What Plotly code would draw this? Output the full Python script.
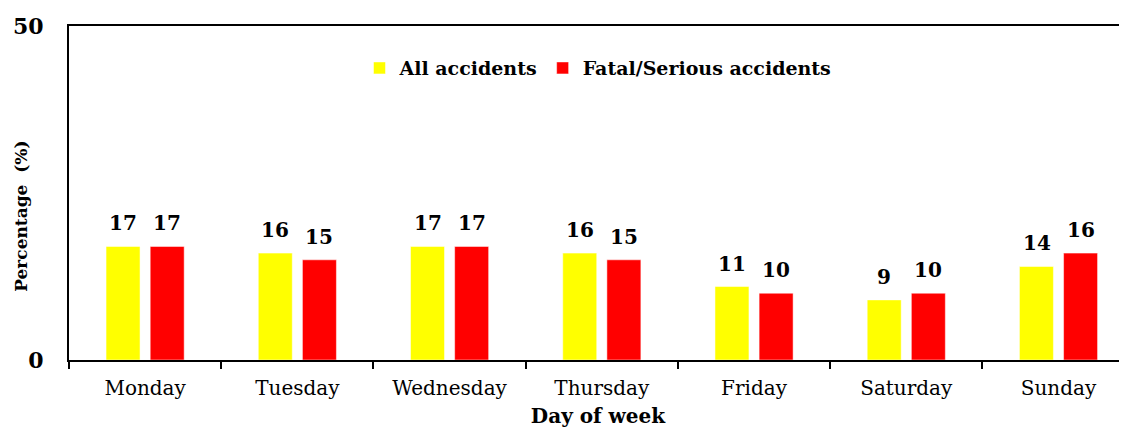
import plotly.graph_objects as go

days = ["Monday", "Tuesday", "Wednesday", "Thursday", "Friday", "Saturday", "Sunday"]
all_accidents = [17, 16, 17, 16, 11, 9, 14]
fatal_serious = [17, 15, 17, 15, 10, 10, 16]

font_family = "DejaVu Serif"

tr_all = go.Bar(
    x=days,
    y=all_accidents,
    name="<b>All accidents</b>",
    marker=dict(color="#FFFF00")
)
tr_fatal = go.Bar(
    x=days,
    y=fatal_serious,
    name="<b>Fatal/Serious accidents</b>",
    marker=dict(color="#FF0000")
)

# value labels over the bars
labels = []
for series, shift in [(all_accidents, -22), (fatal_serious, 22)]:
    for d, v in zip(days, series):
        labels.append(dict(
            x=d, y=v, xref="x", yref="y",
            text="<b>%d</b>" % v,
            showarrow=False,
            xshift=shift,
            yshift=9,
            yanchor="bottom",
            font=dict(size=20, family=font_family)
        ))

labels.append(dict(
    text="<b>Percentage  (%)</b>",
    textangle=-90,
    xref="paper",
    yref="paper",
    x=-0.045,
    y=0.43,
    xanchor="center",
    yanchor="middle",
    showarrow=False,
    font=dict(size=17, family=font_family)
))

# page body has an 8px margin, so the figure is a bit smaller than the window
layout = go.Layout(
    width=1119,
    height=420,
    template="plotly_white",
    font=dict(family=font_family, color="black"),
    paper_bgcolor="white",
    plot_bgcolor="white",
    margin=dict(l=61, r=0, t=18, b=68, autoexpand=False),
    barmode="group",
    bargap=0.42,
    bargroupgap=0.23,
    showlegend=True,
    legend=dict(
        orientation="h",
        x=0.5,
        xanchor="center",
        y=0.874,
        yanchor="middle",
        font=dict(size=19, family=font_family),
        bgcolor="rgba(0,0,0,0)",
        itemwidth=30
    ),
    xaxis=dict(
        range=[-0.5, 6.45],
        automargin=False,
        showline=True,
        linecolor="black",
        linewidth=2,
        mirror=True,
        ticks="outside",
        tickson="boundaries",
        ticklen=7,
        tickcolor="black",
        tickwidth=2,
        showgrid=False,
        ticklabelstandoff=9,
        tickfont=dict(size=20, family=font_family),
        title=dict(text="<b>Day of week</b>", font=dict(size=20), standoff=10)
    ),
    yaxis=dict(
        range=[0, 50],
        automargin=False,
        tickvals=[0, 50],
        ticktext=["<b>0</b>", "<b>50</b>"],
        showline=True,
        linecolor="black",
        linewidth=2,
        ticks="",
        showgrid=False,
        zeroline=False,
        ticklabelstandoff=19,
        tickfont=dict(size=22, family=font_family)
    ),
    annotations=labels
)

fig = go.Figure(data=[tr_all, tr_fatal], layout=layout)
fig.write_html("out.html")
